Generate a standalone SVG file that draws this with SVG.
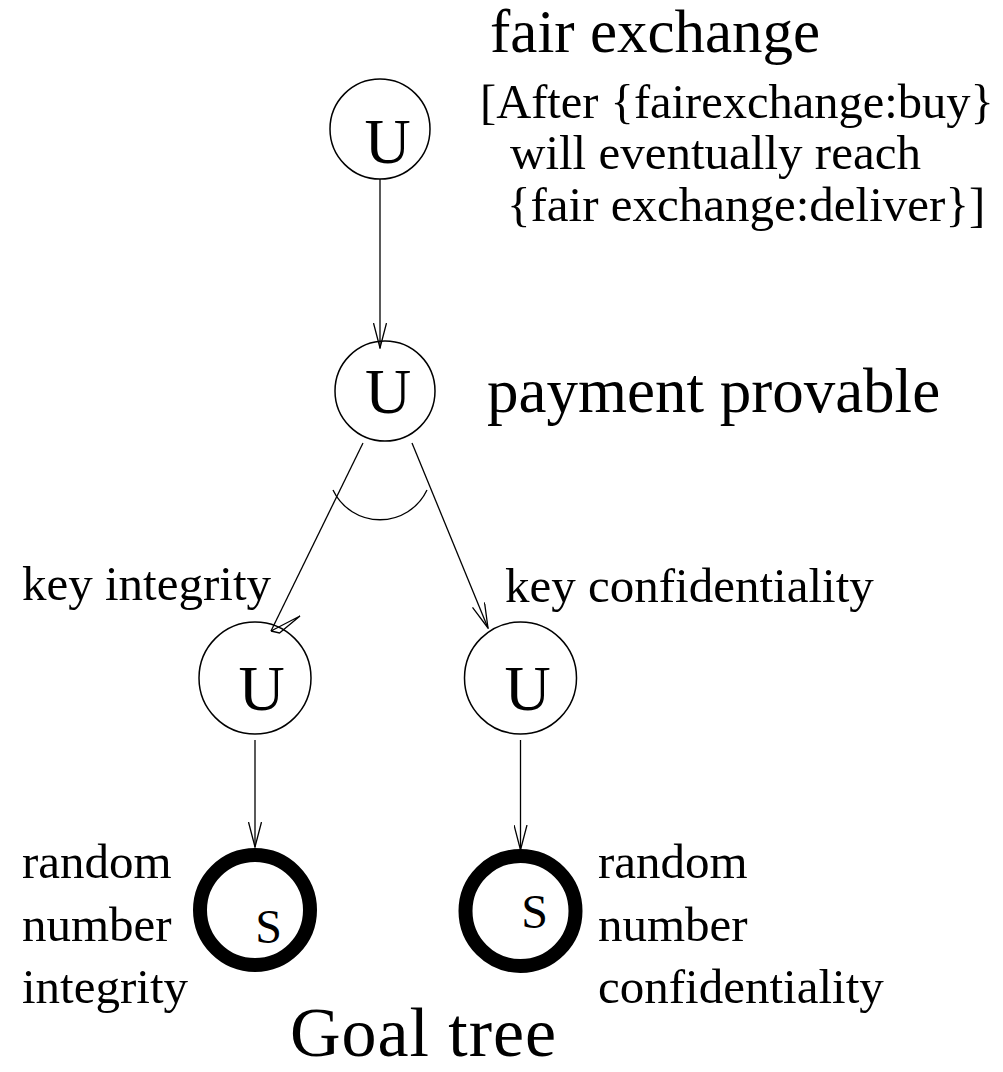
<svg xmlns="http://www.w3.org/2000/svg" width="1003" height="1072" viewBox="0 0 1003 1072">
  <style>
    text { font-family: "Liberation Serif", "Times New Roman", serif; fill: #000; }
    .node { fill: #fff; stroke: #000; stroke-width: 1.5; }
    .soft { fill: #fff; stroke: #000; stroke-width: 14; }
    .sym { font-size: 64px; text-anchor: middle; }
    .ssym { font-size: 48px; text-anchor: middle; }
    .big { font-size: 61px; }
    .lbl { font-size: 49px; }
    .edge { fill: none; stroke: #000; stroke-width: 1.3; }
  </style>
  <defs>
    <marker id="open" viewBox="0 0 26 14" refX="25" refY="7" markerWidth="26" markerHeight="14" markerUnits="userSpaceOnUse" orient="auto">
      <path d="M0,0.5 L25,7 L0,13.5" fill="none" stroke="#000" stroke-width="1.3"/>
    </marker>
  </defs>

  <!-- goal nodes -->
  <g id="fair-exchange">
    <circle class="node" cx="380" cy="129" r="50"/>
    <text class="sym" x="387.5" y="163">U</text>
    <text class="big" x="490" y="52">fair exchange</text>
    <text class="lbl" style="font-size:48.5px" x="480" y="118">[After {fairexchange:buy}</text>
    <text class="lbl" x="510" y="169">will eventually reach</text>
    <text class="lbl" x="507" y="221">{fair exchange:deliver}]</text>
  </g>

  <g id="payment-provable">
    <circle class="node" cx="385" cy="391" r="50"/>
    <text class="sym" x="388" y="413">U</text>
    <text class="big" style="font-size:63px" x="487" y="412">payment provable</text>
  </g>

  <g id="key-integrity">
    <circle class="node" cx="255" cy="678" r="56"/>
    <text class="sym" x="261.5" y="710">U</text>
    <text class="lbl" x="22" y="600">key integrity</text>
  </g>

  <g id="key-confidentiality">
    <circle class="node" cx="520.5" cy="678" r="56"/>
    <text class="sym" x="527.5" y="710">U</text>
    <text class="lbl" x="505" y="602">key confidentiality</text>
  </g>

  <g id="random-number-integrity">
    <circle class="soft" cx="255" cy="910" r="55"/>
    <text class="ssym" x="268.5" y="943">S</text>
    <text class="lbl" x="22" y="878">random</text>
    <text class="lbl" x="22" y="941">number</text>
    <text class="lbl" x="22" y="1003">integrity</text>
  </g>

  <g id="random-number-confidentiality">
    <circle class="soft" cx="520.5" cy="911" r="55"/>
    <text class="ssym" x="534.5" y="928">S</text>
    <text class="lbl" x="598" y="878">random</text>
    <text class="lbl" x="598" y="941">number</text>
    <text class="lbl" x="598" y="1003">confidentiality</text>
  </g>

  <text class="big" style="font-size:70px" x="290" y="1056" textLength="266" lengthAdjust="spacing">Goal tree</text>

  <!-- refinement connectors -->
  <g id="connectors">
    <line class="edge" x1="380" y1="179" x2="380" y2="348" marker-end="url(#open)"/>
    <line class="edge" x1="363" y1="443" x2="271" y2="631"/>
    <polyline class="edge" points="271,631 300,616 279.5,633 271,631"/>
    <line class="edge" x1="412" y1="443" x2="488" y2="628" marker-end="url(#open)"/>
    <line class="edge" x1="255" y1="740" x2="255" y2="847" marker-end="url(#open)"/>
    <line class="edge" x1="520.5" y1="740" x2="520.5" y2="850" marker-end="url(#open)"/>
    <!-- AND arc across the two refinements -->
    <path class="edge" d="M333,490 A52,52 0 0 0 427,490"/>
  </g>
</svg>
